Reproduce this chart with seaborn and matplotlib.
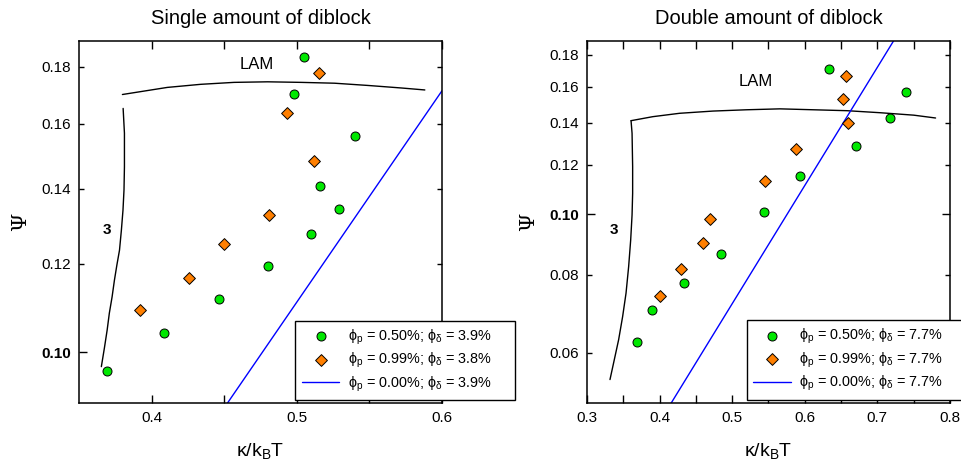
import matplotlib
matplotlib.use("Agg")
import matplotlib.pyplot as plt
from matplotlib.ticker import FixedLocator, FixedFormatter, NullFormatter
import seaborn as sns

# ---------------- Single amount of diblock ----------------
single_green_kappa = [0.505, 0.498, 0.540, 0.516, 0.529, 0.510, 0.480, 0.4465, 0.4085, 0.369]
single_green_psi = [0.1838, 0.1702, 0.1561, 0.1408, 0.1342, 0.1275, 0.1195, 0.1116, 0.1040, 0.0962]
single_orange_kappa = [0.515, 0.493, 0.512, 0.481, 0.450, 0.426, 0.392]
single_orange_psi = [0.1778, 0.1635, 0.1482, 0.1328, 0.1249, 0.1166, 0.1091]
single_pure_kappa = [0.45, 0.60]
single_pure_psi = [0.0892, 0.1713]
single_lam_kappa = [0.3799, 0.4108, 0.4338, 0.4568, 0.4799, 0.5029, 0.5260, 0.5490, 0.5720, 0.5882]
single_lam_psi = [0.1700, 0.1725, 0.1736, 0.1743, 0.1745, 0.1743, 0.1740, 0.1732, 0.1723, 0.1716]
single_three_kappa = [0.3804, 0.3813, 0.3813, 0.3810, 0.3803, 0.3792, 0.3779, 0.3761, 0.3744,
                      0.3728, 0.3709, 0.3694, 0.3675, 0.3654]
single_three_psi = [0.1652, 0.1570, 0.1465, 0.1397, 0.1340, 0.1286, 0.1234, 0.1197, 0.1160,
                    0.1121, 0.1084, 0.1047, 0.1009, 0.0971]
single_labels = ["ϕ$_\\mathregular{p}$ = 0.50%; ϕ$_\\mathregular{δ}$ = 3.9%",
                 "ϕ$_\\mathregular{p}$ = 0.99%; ϕ$_\\mathregular{δ}$ = 3.8%",
                 "ϕ$_\\mathregular{p}$ = 0.00%; ϕ$_\\mathregular{δ}$ = 3.9%"]

# ---------------- Double amount of diblock ----------------
double_green_kappa = [0.634, 0.739, 0.718, 0.670, 0.5935, 0.544, 0.484, 0.433, 0.390, 0.3685]
double_green_psi = [0.1709, 0.1572, 0.1428, 0.1288, 0.1152, 0.1007, 0.0863, 0.0775, 0.0701, 0.0623]
double_orange_kappa = [0.657, 0.652, 0.660, 0.588, 0.545, 0.470, 0.460, 0.429, 0.400]
double_orange_psi = [0.1664, 0.1528, 0.1400, 0.1271, 0.1131, 0.0983, 0.0898, 0.0816, 0.0740]
double_pure_kappa = [0.41, 0.73]
double_pure_psi = [0.0485, 0.196]
double_lam_kappa = [0.3607, 0.3906, 0.4275, 0.4736, 0.5198, 0.5658, 0.6119, 0.6581, 0.7042,
                    0.7502, 0.7802]
double_lam_psi = [0.1412, 0.1433, 0.1451, 0.1463, 0.1470, 0.1475, 0.1470, 0.1465, 0.1454,
                  0.1441, 0.1426]
double_three_kappa = [0.3607, 0.3621, 0.3629, 0.3629, 0.3621, 0.3602, 0.3574, 0.3538, 0.3491,
                      0.3436, 0.3376, 0.3317]
double_three_psi = [0.1412, 0.1348, 0.1192, 0.1080, 0.0997, 0.0909, 0.0824, 0.0747, 0.0685,
                    0.0629, 0.0584, 0.0543]
double_labels = ["ϕ$_\\mathregular{p}$ = 0.50%; ϕ$_\\mathregular{δ}$ = 7.7%",
                 "ϕ$_\\mathregular{p}$ = 0.99%; ϕ$_\\mathregular{δ}$ = 7.7%",
                 "ϕ$_\\mathregular{p}$ = 0.00%; ϕ$_\\mathregular{δ}$ = 7.7%"]

GREEN = "#00e800"
ORANGE = "#ff7f00"
BLUE = "#0000ff"

sns.set_style("ticks")
plt.rcParams["font.family"] = ["Liberation Sans", "DejaVu Sans"]
plt.rcParams["mathtext.fontset"] = "dejavusans"
plt.rcParams["axes.linewidth"] = 1.1
for key in ("text.color", "axes.labelcolor", "xtick.color", "ytick.color", "axes.edgecolor"):
    plt.rcParams[key] = "black"

fig = plt.figure(figsize=(9.61, 4.71), dpi=100)
ax1 = fig.add_axes([0.0822, 0.1444, 0.3777, 0.7686])
ax2 = fig.add_axes([0.6108, 0.1444, 0.3777, 0.7686])


def draw_panel(ax, title, gk, gp, ok, op, pk, pp, lk, lp, tk, tp, labels,
               xlim, ylim, xmajor, xminor, yticks, lam_pos, three_pos, leg_box):
    sns.lineplot(x=lk, y=lp, ax=ax, sort=False, estimator=None, color="black",
                 linewidth=1.0, legend=False, zorder=2)
    sns.lineplot(x=tk, y=tp, ax=ax, sort=False, estimator=None, color="black",
                 linewidth=1.0, legend=False, zorder=2)
    sns.lineplot(x=pk, y=pp, ax=ax, sort=False, estimator=None, color=BLUE,
                 linewidth=1.0, legend=False, zorder=2)
    h_line = ax.lines[-1]
    sns.scatterplot(x=gk, y=gp, ax=ax, marker="o", s=42, color=GREEN,
                    edgecolor="black", linewidth=0.7, legend=False, zorder=3)
    h_green = ax.collections[-1]
    sns.scatterplot(x=ok, y=op, ax=ax, marker="D", s=36, color=ORANGE,
                    edgecolor="black", linewidth=0.7, legend=False, zorder=3)
    h_orange = ax.collections[-1]

    ax.set_yscale("log")
    ax.set_xlim(*xlim)
    ax.set_ylim(*ylim)

    ax.xaxis.set_major_locator(FixedLocator(xmajor))
    ax.xaxis.set_major_formatter(FixedFormatter([f"{v:.1f}" for v in xmajor]))
    ax.xaxis.set_minor_locator(FixedLocator(xminor))
    ax.yaxis.set_major_locator(FixedLocator(yticks))
    ax.yaxis.set_major_formatter(FixedFormatter([f"{v:.2f}" for v in yticks]))
    ax.yaxis.set_minor_locator(FixedLocator([]))
    ax.yaxis.set_minor_formatter(NullFormatter())

    ax.tick_params(axis="both", which="both", direction="in", top=True, right=True,
                   width=1.0, colors="black", labelsize=11)
    ax.tick_params(axis="x", which="major", length=5.5, pad=6)
    ax.tick_params(axis="x", which="minor", length=5.5)
    ax.tick_params(axis="y", which="major", length=3.8, pad=6)
    for t, v in zip(ax.yaxis.get_major_ticks(), yticks):
        if abs(v - 0.10) < 1e-9:
            t.tick1line.set_markersize(5.5)
            t.tick2line.set_markersize(5.5)
            t.label1.set_fontweight("bold")

    for s in ax.spines.values():
        s.set_visible(True)
        s.set_color("black")

    ax.set_title(title, fontsize=14.5, pad=12, color="black")
    ax.set_xlabel("κ/k$_\\mathregular{B}$T", fontsize=14, labelpad=12)
    ax.set_ylabel("Ψ", fontsize=15, family=["DejaVu Serif"], labelpad=8)

    ax.text(lam_pos[0], lam_pos[1], "LAM", fontsize=12, ha="center", va="center")
    ax.text(three_pos[0], three_pos[1], "3", fontsize=11, fontweight="bold",
            ha="center", va="center")

    leg = ax.legend([h_green, h_orange, h_line], labels, loc="upper left",
                    bbox_to_anchor=leg_box, mode="expand", borderaxespad=0,
                    fontsize=10.4, frameon=True, fancybox=False, framealpha=1,
                    edgecolor="black", handlelength=2.6, handletextpad=0.6,
                    borderpad=0.45, labelspacing=0.3, scatterpoints=1)
    leg.get_frame().set_linewidth(1.0)
    leg.set_zorder(5)
    leg.set_clip_on(False)


draw_panel(ax1, "Single amount of diblock",
           single_green_kappa, single_green_psi, single_orange_kappa, single_orange_psi,
           single_pure_kappa, single_pure_psi, single_lam_kappa, single_lam_psi,
           single_three_kappa, single_three_psi, single_labels,
           (0.35, 0.60), (0.0901, 0.1898), [0.4, 0.5, 0.6], [0.45, 0.55],
           [0.10, 0.12, 0.14, 0.16, 0.18], (0.4725, 0.181), (0.369, 0.1286),
           (0.596, 0.0110, 0.606, 0.2163))

draw_panel(ax2, "Double amount of diblock",
           double_green_kappa, double_green_psi, double_orange_kappa, double_orange_psi,
           double_pure_kappa, double_pure_psi, double_lam_kappa, double_lam_psi,
           double_three_kappa, double_three_psi, double_labels,
           (0.30, 0.80), (0.0498, 0.1895), [0.3, 0.4, 0.5, 0.6, 0.7, 0.8],
           [0.35, 0.45, 0.55, 0.65, 0.75],
           [0.06, 0.08, 0.10, 0.12, 0.14, 0.16, 0.18], (0.5326, 0.1631), (0.3376, 0.0944),
           (0.44, 0.012, 0.68, 0.217))

fig.savefig("out.png", dpi=100)
